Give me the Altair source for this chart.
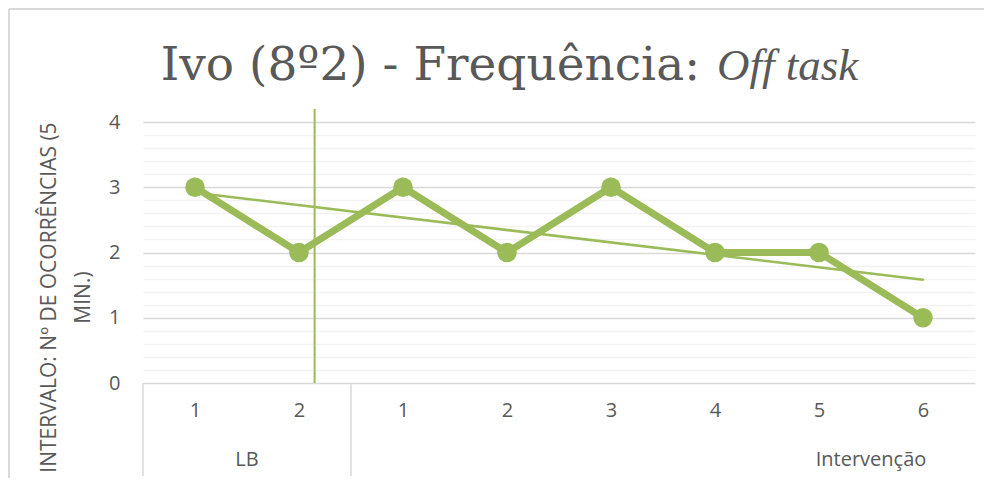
import altair as alt
import pandas as pd

# ---- data ----
phases = ["LB", "LB", "Intervenção", "Intervenção", "Intervenção", "Intervenção", "Intervenção", "Intervenção"]
sessions = ["1", "2", "1", "2", "3", "4", "5", "6"]
values = [3, 2, 3, 2, 3, 2, 2, 1]
group_labels = ["LB", "Intervenção"]
group_label_at = [1.5, 7.5]
group_bounds = [0.5, 2.5]
phase_change_at = [2.15]

GREEN = "#9bbb59"
GRID = "#d9d9d9"
MINOR = "#f2f2f2"
TXT = "#595959"
FONT = "Open Sans"
FS = 20

W, H = 832, 261

df = pd.DataFrame({"idx": list(range(1, len(values) + 1)), "val": values,
                   "phase": phases, "session": sessions})
groups = pd.DataFrame({"pos": group_label_at, "label": group_labels})
bounds = pd.DataFrame({"b": group_bounds})
phase_df = pd.DataFrame({"p": phase_change_at})

label_expr = "[" + ",".join("'%s'" % s for s in sessions) + "][datum.value-1]"

xscale = alt.Scale(domain=[0.5, len(values) + 0.5], nice=False, zero=False)
yvals = [round(i * 0.2, 1) for i in range(21)]
yscale = alt.Scale(domain=[0, 4], nice=False)

x_enc = alt.X("idx:Q", scale=xscale,
              axis=alt.Axis(values=list(range(1, len(values) + 1)), tickCount=len(values),
                            labelExpr=label_expr, labelOverlap=False,
                            ticks=False, domain=False, grid=False, title=None,
                            labelFont=FONT, labelFontSize=FS, labelColor=TXT,
                            labelPadding=17))
y_enc = alt.Y("val:Q", scale=yscale,
              axis=alt.Axis(values=yvals, tickCount=len(yvals), labelOverlap=False,
                            labelExpr="abs(datum.value - round(datum.value)) < 0.001 ? format(datum.value, 'd') : ''",
                            gridColor=alt.condition("abs(datum.value - round(datum.value)) < 0.001",
                                                    alt.value(GRID), alt.value(MINOR)),
                            gridWidth=1.3, ticks=False, domain=False,
                            labelFont=FONT, labelFontSize=FS, labelColor=TXT, labelPadding=23,
                            title=["INTERVALO: Nº DE OCORRÊNCIAS (5", "MIN.)"],
                            titleFont=FONT, titleFontSize=21, titleFontWeight="normal",
                            titleColor=TXT, titleLineHeight=34, titleY=175, titleX=-84))

base = alt.Chart(df)

line = base.mark_line(color=GREEN, strokeWidth=7, strokeJoin="miter").encode(x=x_enc, y=y_enc)
pts = base.mark_point(filled=True, color=GREEN, opacity=1, size=380, shape="circle").encode(
    x="idx:Q", y="val:Q")
trend = base.transform_regression("idx", "val").mark_line(
    color=GREEN, strokeWidth=2.6, strokeCap="round").encode(x="idx:Q", y="val:Q")

phase_rule = alt.Chart(phase_df).mark_rule(color=GREEN, strokeWidth=2).encode(
    x=alt.X("p:Q"), y=alt.value(-13), y2=alt.value(H))

sep = alt.Chart(bounds).mark_rule(color=GRID, strokeWidth=1.5).encode(
    x=alt.X("b:Q"), y=alt.value(H), y2=alt.value(H + 93))

grp_text = alt.Chart(groups).mark_text(font=FONT, fontSize=FS, color=TXT, baseline="middle").encode(
    x=alt.X("pos:Q"), y=alt.value(H + 77), text="label:N")

title_a = alt.Chart(pd.DataFrame({"t": ["Ivo (8º2) - Frequência:"]})).mark_text(
    font="DejaVu Serif", fontSize=47, color=TXT, align="right", baseline="alphabetic").encode(
    x=alt.value(557), y=alt.value(-42), text="t:N")
title_b = alt.Chart(pd.DataFrame({"t": ["Off task"]})).mark_text(
    font="Liberation Serif", fontSize=45, fontStyle="italic", color=TXT, align="left",
    baseline="alphabetic").encode(x=alt.value(574), y=alt.value(-42), text="t:N")

border_top = alt.Chart(pd.DataFrame({"a": [0]})).mark_rule(color=GRID, strokeWidth=2).encode(
    x=alt.value(-134), x2=alt.value(W + 20), y=alt.value(-113))
border_left = alt.Chart(pd.DataFrame({"a": [0]})).mark_rule(color=GRID, strokeWidth=2).encode(
    x=alt.value(-134), y=alt.value(-113), y2=alt.value(H + 95))

chart = alt.layer(line, trend, pts, phase_rule, sep, grp_text, title_a, title_b,
                  border_top, border_left).properties(
    width=W, height=H,
    autosize=alt.AutoSizeParams(type="none"),
    padding={"left": 135, "top": 114, "right": 9, "bottom": 95},
    background="white",
).configure_view(stroke=None)

chart.save("out.html", embed_options={"renderer": "svg", "actions": False})
